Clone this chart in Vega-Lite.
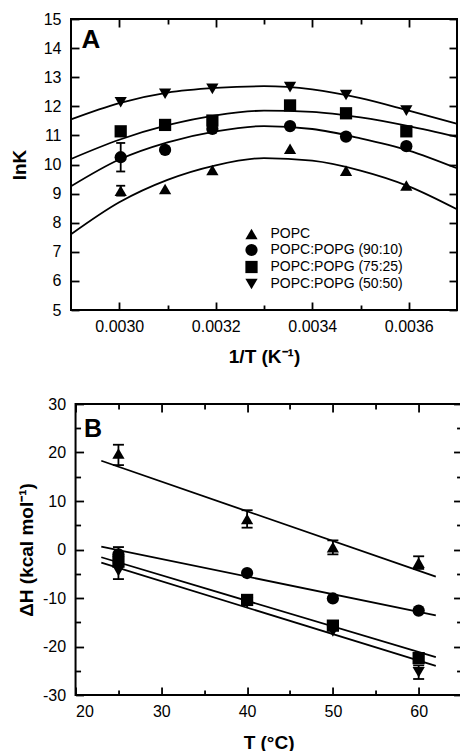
{
  "$schema": "https://vega.github.io/schema/vega-lite/v6.json",
  "padding": {"left": 9, "top": 10, "right": 0, "bottom": 0},
  "spacing": 28,
  "center": true,
  "config": {
    "font": "Liberation Sans",
    "view": {"stroke": "black", "strokeWidth": 2},
    "axis": {"domain": false, "grid": false, "tickColor": "black", "tickWidth": 1.8, "labelColor": "black", "labelFont": "Liberation Sans", "labelFontSize": 16, "titleFont": "Liberation Sans", "titleFontSize": 19, "titleFontWeight": "bold", "titleColor": "black"},
    "legend": {"labelFont": "Liberation Sans", "labelFontSize": 14, "labelColor": "black"}
  },
  "datasets": {
    "pointsA": [
      {"series": "POPC", "x": 0.003003, "y": 9.10},
      {"series": "POPC", "x": 0.003095, "y": 9.16},
      {"series": "POPC", "x": 0.003193, "y": 9.81},
      {"series": "POPC", "x": 0.003354, "y": 10.54},
      {"series": "POPC", "x": 0.00347, "y": 9.79},
      {"series": "POPC", "x": 0.003595, "y": 9.28},
      {"series": "POPC:POPG (90:10)", "x": 0.003003, "y": 10.25},
      {"series": "POPC:POPG (90:10)", "x": 0.003095, "y": 10.50},
      {"series": "POPC:POPG (90:10)", "x": 0.003193, "y": 11.22},
      {"series": "POPC:POPG (90:10)", "x": 0.003354, "y": 11.32},
      {"series": "POPC:POPG (90:10)", "x": 0.00347, "y": 10.96},
      {"series": "POPC:POPG (90:10)", "x": 0.003595, "y": 10.63},
      {"series": "POPC:POPG (75:25)", "x": 0.003003, "y": 11.14},
      {"series": "POPC:POPG (75:25)", "x": 0.003095, "y": 11.36},
      {"series": "POPC:POPG (75:25)", "x": 0.003193, "y": 11.51},
      {"series": "POPC:POPG (75:25)", "x": 0.003354, "y": 12.03},
      {"series": "POPC:POPG (75:25)", "x": 0.00347, "y": 11.76},
      {"series": "POPC:POPG (75:25)", "x": 0.003595, "y": 11.14},
      {"series": "POPC:POPG (50:50)", "x": 0.003003, "y": 12.14},
      {"series": "POPC:POPG (50:50)", "x": 0.003095, "y": 12.43},
      {"series": "POPC:POPG (50:50)", "x": 0.003193, "y": 12.60},
      {"series": "POPC:POPG (50:50)", "x": 0.003354, "y": 12.66},
      {"series": "POPC:POPG (50:50)", "x": 0.00347, "y": 12.39},
      {"series": "POPC:POPG (50:50)", "x": 0.003595, "y": 11.85}
    ],
    "curvesA": [
      {"series": "POPC", "x": 0.0029, "y": 7.60},
      {"series": "POPC", "x": 0.0030, "y": 8.70},
      {"series": "POPC", "x": 0.0031, "y": 9.47},
      {"series": "POPC", "x": 0.0032, "y": 9.97},
      {"series": "POPC", "x": 0.0033, "y": 10.22},
      {"series": "POPC", "x": 0.0034, "y": 10.13},
      {"series": "POPC", "x": 0.0035, "y": 9.79},
      {"series": "POPC", "x": 0.0036, "y": 9.25},
      {"series": "POPC", "x": 0.0037, "y": 8.46},
      {"series": "POPC:POPG (90:10)", "x": 0.0029, "y": 9.25},
      {"series": "POPC:POPG (90:10)", "x": 0.0030, "y": 10.17},
      {"series": "POPC:POPG (90:10)", "x": 0.0031, "y": 10.76},
      {"series": "POPC:POPG (90:10)", "x": 0.0032, "y": 11.14},
      {"series": "POPC:POPG (90:10)", "x": 0.0033, "y": 11.32},
      {"series": "POPC:POPG (90:10)", "x": 0.0034, "y": 11.22},
      {"series": "POPC:POPG (90:10)", "x": 0.0035, "y": 10.90},
      {"series": "POPC:POPG (90:10)", "x": 0.0036, "y": 10.48},
      {"series": "POPC:POPG (90:10)", "x": 0.0037, "y": 9.87},
      {"series": "POPC:POPG (75:25)", "x": 0.0029, "y": 10.19},
      {"series": "POPC:POPG (75:25)", "x": 0.0030, "y": 10.85},
      {"series": "POPC:POPG (75:25)", "x": 0.0031, "y": 11.35},
      {"series": "POPC:POPG (75:25)", "x": 0.0032, "y": 11.69},
      {"series": "POPC:POPG (75:25)", "x": 0.0033, "y": 11.85},
      {"series": "POPC:POPG (75:25)", "x": 0.0034, "y": 11.81},
      {"series": "POPC:POPG (75:25)", "x": 0.0035, "y": 11.62},
      {"series": "POPC:POPG (75:25)", "x": 0.0036, "y": 11.32},
      {"series": "POPC:POPG (75:25)", "x": 0.0037, "y": 10.95},
      {"series": "POPC:POPG (50:50)", "x": 0.0029, "y": 11.55},
      {"series": "POPC:POPG (50:50)", "x": 0.0030, "y": 12.11},
      {"series": "POPC:POPG (50:50)", "x": 0.0031, "y": 12.47},
      {"series": "POPC:POPG (50:50)", "x": 0.0032, "y": 12.63},
      {"series": "POPC:POPG (50:50)", "x": 0.0033, "y": 12.69},
      {"series": "POPC:POPG (50:50)", "x": 0.0034, "y": 12.58},
      {"series": "POPC:POPG (50:50)", "x": 0.0035, "y": 12.28},
      {"series": "POPC:POPG (50:50)", "x": 0.0036, "y": 11.85},
      {"series": "POPC:POPG (50:50)", "x": 0.0037, "y": 11.40}
    ],
    "errA": [
      {"series": "POPC", "x": 0.003003, "lo": 8.93, "hi": 9.27},
      {"series": "POPC:POPG (90:10)", "x": 0.003003, "lo": 9.76, "hi": 10.74}
    ],
    "pointsB": [
      {"series": "POPC", "t": 25, "dh": 19.8},
      {"series": "POPC", "t": 40, "dh": 6.3},
      {"series": "POPC", "t": 50, "dh": 0.5},
      {"series": "POPC", "t": 60, "dh": -2.7},
      {"series": "POPC:POPG (90:10)", "t": 25, "dh": -1.0},
      {"series": "POPC:POPG (90:10)", "t": 40, "dh": -4.85},
      {"series": "POPC:POPG (90:10)", "t": 50, "dh": -10.1},
      {"series": "POPC:POPG (90:10)", "t": 60, "dh": -12.6},
      {"series": "POPC:POPG (75:25)", "t": 25, "dh": -2.5},
      {"series": "POPC:POPG (75:25)", "t": 40, "dh": -10.4},
      {"series": "POPC:POPG (75:25)", "t": 50, "dh": -15.7},
      {"series": "POPC:POPG (75:25)", "t": 60, "dh": -22.4},
      {"series": "POPC:POPG (50:50)", "t": 25, "dh": -4.4},
      {"series": "POPC:POPG (50:50)", "t": 40, "dh": -11.0},
      {"series": "POPC:POPG (50:50)", "t": 50, "dh": -16.9},
      {"series": "POPC:POPG (50:50)", "t": 60, "dh": -25.3}
    ],
    "linesB": [
      {"series": "POPC", "t": 23, "dh": 18.3},
      {"series": "POPC", "t": 62, "dh": -5.6},
      {"series": "POPC:POPG (90:10)", "t": 23, "dh": 0.6},
      {"series": "POPC:POPG (90:10)", "t": 62, "dh": -13.6},
      {"series": "POPC:POPG (75:25)", "t": 23, "dh": -1.6},
      {"series": "POPC:POPG (75:25)", "t": 62, "dh": -22.2},
      {"series": "POPC:POPG (50:50)", "t": 23, "dh": -2.7},
      {"series": "POPC:POPG (50:50)", "t": 62, "dh": -24.0}
    ],
    "errB": [
      {"series": "POPC", "t": 25, "lo": 17.4, "hi": 21.6},
      {"series": "POPC", "t": 40, "lo": 4.5, "hi": 8.1},
      {"series": "POPC", "t": 50, "lo": -1.0, "hi": 1.9},
      {"series": "POPC", "t": 60, "lo": -4.0, "hi": -1.4},
      {"series": "POPC:POPG (90:10)", "t": 25, "lo": -2.5, "hi": 0.5},
      {"series": "POPC:POPG (50:50)", "t": 25, "lo": -6.1, "hi": -2.7},
      {"series": "POPC:POPG (50:50)", "t": 60, "lo": -26.7, "hi": -23.9}
    ]
  },
  "resolve": {"scale": {"shape": "independent"}, "legend": {"shape": "independent"}},
  "vconcat": [
    {
      "width": 386,
      "height": 291,
      "resolve": {"axis": {"x": "independent", "y": "independent"}},
      "layer": [
        {
          "data": {"name": "errA"},
          "mark": {"type": "rule", "color": "black", "strokeWidth": 1.8},
          "encoding": {
            "x": {"field": "x", "type": "quantitative", "scale": {"domain": [0.0029, 0.0037], "nice": false, "zero": false},
                  "axis": {"orient": "bottom", "values": [0.0031, 0.0033, 0.0035], "tickSize": -5, "labels": false, "title": null}},
            "y": {"field": "lo", "type": "quantitative", "scale": {"domain": [5, 15], "nice": false, "zero": false}, "axis": null},
            "y2": {"field": "hi"}
          }
        },
        {
          "data": {"name": "errA"},
          "mark": {"type": "tick", "color": "black", "orient": "horizontal", "size": 9, "thickness": 1.8, "opacity": 1},
          "encoding": {
            "x": {"field": "x", "type": "quantitative", "axis": {"orient": "top", "values": [0.0031, 0.0033, 0.0035], "tickSize": -5, "labels": false, "title": null}},
            "y": {"field": "lo", "type": "quantitative", "axis": null}
          }
        },
        {
          "data": {"name": "errA"},
          "mark": {"type": "tick", "color": "black", "orient": "horizontal", "size": 9, "thickness": 1.8, "opacity": 1},
          "encoding": {
            "x": {"field": "x", "type": "quantitative", "axis": null},
            "y": {"field": "hi", "type": "quantitative",
                  "axis": {"orient": "right", "values": [10], "ticks": true, "tickSize": 10, "tickOpacity": 0, "labels": false, "title": null}}
          }
        },
        {
          "data": {"name": "curvesA"},
          "mark": {"type": "line", "color": "black", "strokeWidth": 1.8, "interpolate": "monotone"},
          "encoding": {
            "x": {"field": "x", "type": "quantitative",
                  "axis": {"orient": "bottom", "values": [0.003, 0.0032, 0.0034, 0.0036], "format": ".4f", "tickSize": -8, "labelPadding": 16, "title": "1/T (K⁻¹)", "titlePadding": 13}},
            "y": {"field": "y", "type": "quantitative",
                  "axis": {"orient": "left", "values": [5, 6, 7, 8, 9, 10, 11, 12, 13, 14, 15], "tickSize": -8, "labelPadding": 18, "title": "lnK", "titleX": -52, "titleBaseline": "middle"}},
            "detail": {"field": "series"}
          }
        },
        {
          "data": {"name": "pointsA"},
          "mark": {"type": "point", "filled": true, "color": "black", "opacity": 1, "size": 150},
          "encoding": {
            "x": {"field": "x", "type": "quantitative", "axis": {"orient": "top", "values": [0.003, 0.0032, 0.0034, 0.0036], "tickSize": -8, "labels": false,
                  "title": "A", "titleX": 10, "titleY": 28, "titleAlign": "left", "titleBaseline": "alphabetic", "titleAngle": 0, "titleFontSize": 26}},
            "y": {"field": "y", "type": "quantitative", "axis": {"orient": "right", "values": [5, 6, 7, 8, 9, 10, 11, 12, 13, 14, 15], "tickSize": -8, "labels": false, "title": null}},
            "shape": {"field": "series", "type": "nominal",
                      "scale": {"domain": ["POPC", "POPC:POPG (90:10)", "POPC:POPG (75:25)", "POPC:POPG (50:50)"], "range": ["triangle-up", "circle", "square", "triangle-down"]},
                      "legend": {"orient": "none", "legendX": 173.5, "legendY": 208, "title": null, "padding": 0, "symbolSize": 150, "symbolFillColor": "black", "symbolStrokeColor": "black", "labelOffset": 12, "rowPadding": -5, "labelFontSize": 14}}
          }
        }
      ]
    },
    {
      "width": 386,
      "height": 291,
      "resolve": {"axis": {"x": "independent", "y": "independent"}},
      "layer": [
        {
          "data": {"name": "errB"},
          "mark": {"type": "rule", "color": "black", "strokeWidth": 1.8},
          "encoding": {
            "x": {"field": "t", "type": "quantitative", "scale": {"domain": [20, 65], "nice": false, "zero": false},
                  "axis": {"orient": "bottom", "values": [25, 35, 45, 55], "tickSize": -5, "labels": false, "title": null}},
            "y": {"field": "lo", "type": "quantitative", "scale": {"domain": [-30, 30], "nice": false, "zero": false},
                  "axis": {"orient": "left", "values": [-25, -15, -5, 5, 15, 25], "tickSize": -5, "labels": false, "title": null}},
            "y2": {"field": "hi"}
          }
        },
        {
          "data": {"name": "errB"},
          "mark": {"type": "tick", "color": "black", "orient": "horizontal", "size": 11, "thickness": 1.8, "opacity": 1},
          "encoding": {
            "x": {"field": "t", "type": "quantitative", "axis": {"orient": "top", "values": [25, 35, 45, 55], "tickSize": -5, "labels": false, "title": null}},
            "y": {"field": "lo", "type": "quantitative", "axis": {"orient": "right", "values": [-25, -15, -5, 5, 15, 25], "tickSize": -5, "labels": false, "title": null}}
          }
        },
        {
          "data": {"name": "errB"},
          "mark": {"type": "tick", "color": "black", "orient": "horizontal", "size": 11, "thickness": 1.8, "opacity": 1},
          "encoding": {
            "x": {"field": "t", "type": "quantitative", "axis": null},
            "y": {"field": "hi", "type": "quantitative", "axis": null}
          }
        },
        {
          "data": {"name": "linesB"},
          "mark": {"type": "line", "color": "black", "strokeWidth": 1.8},
          "encoding": {
            "x": {"field": "t", "type": "quantitative",
                  "axis": {"orient": "bottom", "values": [20, 30, 40, 50, 60], "format": "d", "tickSize": -8, "labelPadding": 16, "title": "T (°C)", "titlePadding": 14}},
            "y": {"field": "dh", "type": "quantitative",
                  "axis": {"orient": "left", "values": [-30, -20, -10, 0, 10, 20, 30], "tickSize": -8, "labelPadding": 18, "labelExpr": "datum.value < 0 ? '-' + abs(datum.value) : '' + datum.value", "title": "ΔH (kcal mol⁻¹)", "titleX": -49, "titleBaseline": "middle"}},
            "detail": {"field": "series"}
          }
        },
        {
          "data": {"name": "pointsB"},
          "mark": {"type": "point", "filled": true, "color": "black", "opacity": 1, "size": 150},
          "encoding": {
            "x": {"field": "t", "type": "quantitative", "axis": {"orient": "top", "values": [20, 30, 40, 50, 60], "tickSize": -8, "labels": false,
                  "title": "B", "titleX": 8, "titleY": 32, "titleAlign": "left", "titleBaseline": "alphabetic", "titleAngle": 0, "titleFontSize": 25}},
            "y": {"field": "dh", "type": "quantitative", "axis": {"orient": "right", "values": [-30, -20, -10, 0, 10, 20, 30], "tickSize": -8, "labels": false, "title": null}},
            "shape": {"field": "series", "type": "nominal",
                      "scale": {"domain": ["POPC", "POPC:POPG (90:10)", "POPC:POPG (75:25)", "POPC:POPG (50:50)"], "range": ["triangle-up", "circle", "square", "triangle-down"]},
                      "legend": null}
          }
        }
      ]
    }
  ]
}
